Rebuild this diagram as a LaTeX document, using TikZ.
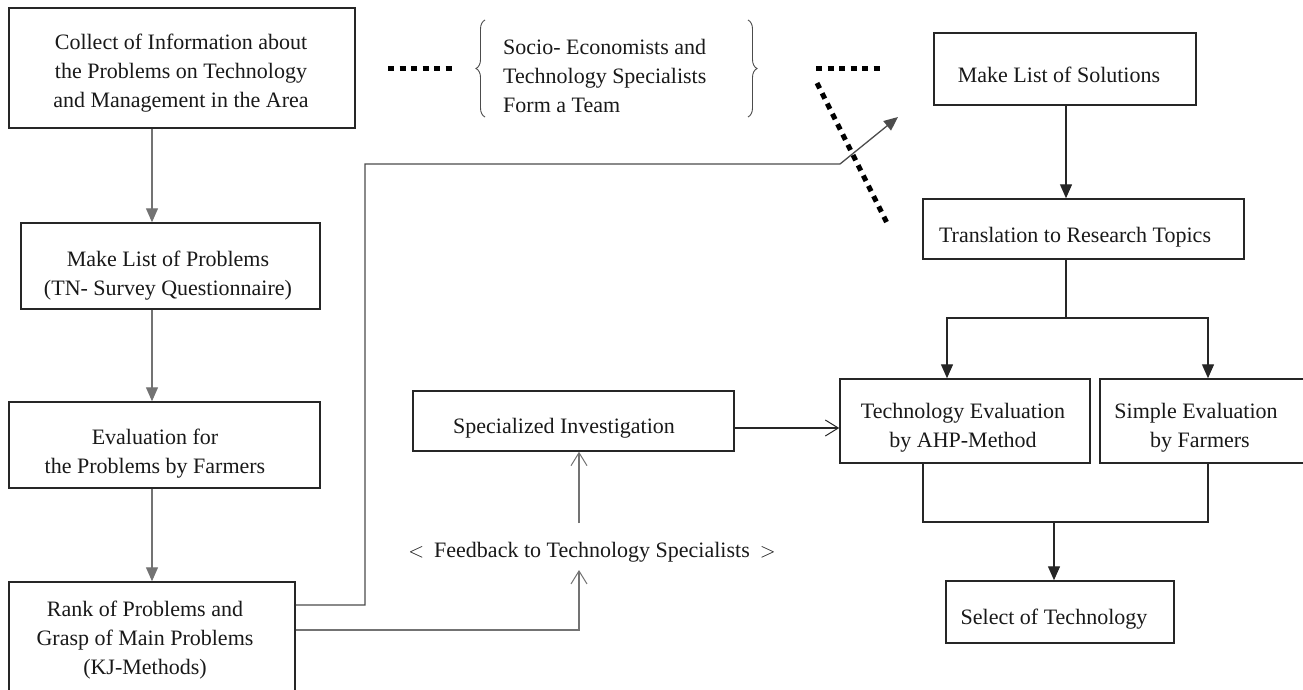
\documentclass[tikz,border=0pt]{standalone}
\usepackage{fontspec}
\setmainfont{Liberation Serif}
\usetikzlibrary{arrows.meta,decorations.pathreplacing}
\begin{document}
\begin{tikzpicture}[x=1pt,y=-1pt,
  box/.style={draw=black!85,line width=1.5pt,inner sep=0pt},
  txt/.style={font=\fontsize{22}{29}\selectfont,align=center,inner sep=0pt,text=black!90},
  lconn/.style={draw=black!55,line width=1.3pt},
  rconn/.style={draw=black!85,line width=1.3pt},
  farr/.style={-{Triangle[width=12pt,length=14pt]}},
  oarr/.style={-{Straight Barb[width=16pt,length=13pt,line width=1pt]}},
  dotline/.style={line width=5pt,dash pattern=on 6pt off 5.5pt,black},
  bracestyle/.style={decorate,decoration={brace,amplitude=9pt},line width=0.9pt,black!70}]
\useasboundingbox (0,0) rectangle (1303,689);
\clip (0,0) rectangle (1303,689);
\fill[white] (0,0) rectangle (1303,689);

% boxes
\node[box,minimum width=346pt,minimum height=120pt] (b1) at (182,68) {};
\node[box,minimum width=299pt,minimum height=86pt] (b2) at (170.5,266) {};
\node[box,minimum width=311pt,minimum height=86pt] (b3) at (164.5,445) {};
\node[box,minimum width=286pt,minimum height=128pt] (b4) at (152,646) {};
\node[box,minimum width=262pt,minimum height=72pt] (sol) at (1065,69) {};
\node[box,minimum width=321pt,minimum height=60pt] (tr) at (1083.5,229) {};
\node[box,minimum width=250pt,minimum height=84pt] (ahp) at (965,421) {};
\node[box,minimum width=220pt,minimum height=84pt] (sim) at (1210,421) {};
\node[box,minimum width=228pt,minimum height=62pt] (sel) at (1060,612) {};
\node[box,minimum width=321pt,minimum height=60pt] (spec) at (573.5,421) {};

% texts
\node[txt] (t1) at (181,73) {Collect of Information about\\the Problems on Technology\\and Management in the Area};
\node[txt] (t2) at (168,276) {Make List of Problems\\(TN- Survey Questionnaire)};
\node[txt] (t3) at (155,454) {Evaluation for\\the Problems by Farmers};
\node[txt] (t4) at (145,640) {Rank of Problems and\\Grasp of Main Problems\\(KJ-Methods)};
\node[txt,align=left,anchor=west] (team) at (503,76) {Socio- Economists and\\Technology Specialists\\Form a Team};
\node[txt] (tsol) at (1059,75) {Make List of Solutions};
\node[txt] (ttr) at (1075,237) {Translation to Research Topics};
\node[txt] (tahp) at (963,428) {Technology Evaluation\\by AHP-Method};
\node[txt] (tsim) at (1196,428) {Simple Evaluation\\\hspace*{8pt}by Farmers};
\node[txt] (tsel) at (1054,619) {Select of Technology};
\node[txt] (tspec) at (564,428) {Specialized Investigation};
\node[txt] (fb) at (592,552) {$<$\hspace{10pt}Feedback to Technology Specialists\hspace{10pt}$>$};

% helper coordinates
\coordinate (cL) at (152,0);
\coordinate (y605) at (0,605);
\coordinate (y630) at (0,630);
\coordinate (y428) at (0,428);
\coordinate (k1) at (365,164);
\coordinate (k2) at (840,164);
\coordinate (tip) at (898,117);
\coordinate (fbx) at (579,0);
\coordinate (fbin) at (579,570);
\coordinate (fbout) at (579,523);
\coordinate (c1066) at (1066,0);
\coordinate (j1) at (1066,318);
\coordinate (c947) at (947,0);
\coordinate (c1208) at (1208,0);
\coordinate (c923) at (923,0);
\coordinate (j2) at (1054,522);

% left column
\draw[lconn,farr] (b1.south -| cL) -- (b2.north -| cL);
\draw[lconn,farr] (b2.south -| cL) -- (b3.north -| cL);
\draw[lconn,farr] (b3.south -| cL) -- (b4.north -| cL);

% upper connector to solutions
\draw[draw=black!70,line width=1.3pt,farr] (b4.east |- y605) -| (k1) -- (k2) -- (tip);
% feedback connectors
\draw[lconn,oarr] (b4.east |- y630) -| (fbin);
\draw[lconn,oarr] (fbout) -- (spec.south -| fbx);
\draw[rconn,oarr] (spec.east |- y428) -- (ahp.west |- y428);

% right column
\draw[rconn,farr] (sol.south -| c1066) -- (tr.north -| c1066);
\draw[rconn] (tr.south -| c1066) -- (j1);
\draw[rconn,farr] (j1) -| (ahp.north -| c947);
\draw[rconn,farr] (j1) -| (sim.north -| c1208);
\draw[rconn] (ahp.south -| c923) |- (j2) -| (sim.south -| c1208);
\draw[rconn,farr] (j2) -- (sel.north -| j2);

% dotted lines
\coordinate (d1a) at (388,68);
\coordinate (d1b) at (454,68);
\coordinate (d2a) at (816,68);
\coordinate (d2b) at (882,68);
\coordinate (d3a) at (817,83);
\coordinate (d3b) at (887,223);
\draw[dotline] (d1a) -- (d1b);
\draw[dotline] (d2a) -- (d2b);
\draw[dotline] (d3a) -- (d3b);

% braces
\coordinate (br1a) at (485,117);
\coordinate (br1b) at (485,20);
\coordinate (br2a) at (748,20);
\coordinate (br2b) at (748,117);
\draw[bracestyle] (br1a) -- (br1b);
\draw[bracestyle] (br2a) -- (br2b);
\end{tikzpicture}
\end{document}
